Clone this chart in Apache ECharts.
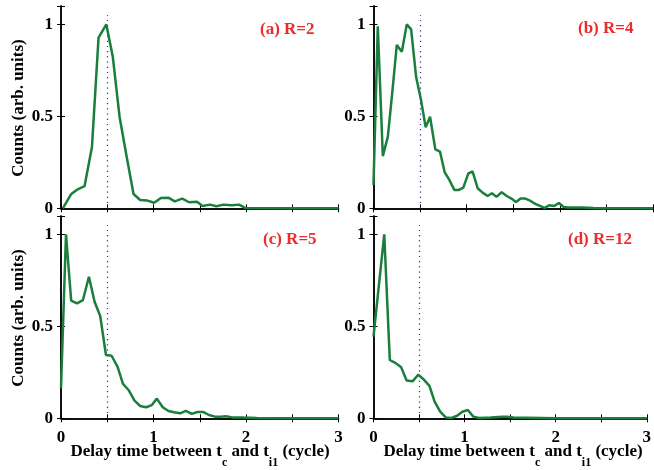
<!DOCTYPE html>
<html><head><meta charset="utf-8">
<script src="https://cdn.jsdelivr.net/npm/echarts@6/dist/echarts.min.js"></script>
<style>html,body{margin:0;padding:0;background:#fff}#c{width:654px;height:470px}</style>
</head><body><div id="c"></div>
<script>
// Panel (a) R=2
const xA = [0.02,0.108,0.18,0.255,0.335,0.406,0.49,0.56,0.633,0.71,0.784,0.856,0.928,1.007,1.08,1.16,1.23,1.31,1.385,1.47,1.53,1.61,1.68,1.755,1.845,1.925,1.99,2.5,3.0];
const yA = [0,0.076,0.103,0.121,0.335,0.928,1.0,0.824,0.498,0.28,0.078,0.045,0.043,0.03,0.056,0.058,0.038,0.053,0.033,0.036,0.013,0.02,0.011,0.02,0.016,0.02,0.002,0,0];
// Panel (b) R=4
const xB = [0,0.046,0.1,0.154,0.204,0.25,0.304,0.357,0.404,0.457,0.51,0.56,0.607,0.664,0.714,0.764,0.814,0.868,0.918,0.964,1.018,1.064,1.118,1.171,1.225,1.271,1.32,1.375,1.43,1.48,1.53,1.58,1.63,1.686,1.736,1.786,1.836,1.886,1.94,1.99,2.04,2.09,2.14,2.25,2.36,2.5,3.0];
const yB = [0.127,0.99,0.284,0.39,0.643,0.888,0.851,1.0,0.973,0.716,0.589,0.44,0.498,0.32,0.308,0.196,0.154,0.1,0.1,0.112,0.19,0.2,0.109,0.085,0.067,0.082,0.062,0.087,0.067,0.053,0.034,0.053,0.053,0.04,0.024,0.013,0.002,0.016,0.013,0.029,0.007,0.005,0.005,0.004,0.002,0,0];
// Panel (c) R=5
const xC = [0,0.054,0.11,0.173,0.237,0.302,0.363,0.424,0.486,0.547,0.612,0.67,0.73,0.795,0.856,0.92,0.982,1.036,1.1,1.162,1.223,1.288,1.35,1.414,1.475,1.54,1.6,1.665,1.727,1.784,1.852,1.917,1.978,2.115,2.5,3.0];
const yC = [0.163,1.0,0.64,0.625,0.643,0.77,0.634,0.556,0.344,0.34,0.28,0.187,0.154,0.096,0.067,0.06,0.072,0.107,0.06,0.04,0.033,0.027,0.04,0.024,0.034,0.034,0.018,0.009,0.009,0.011,0.005,0.005,0.004,0.002,0,0];
// Panel (d) R=12
const xD = [0,0.118,0.179,0.243,0.304,0.364,0.429,0.49,0.55,0.614,0.671,0.732,0.793,0.857,0.918,0.975,1.036,1.096,1.16,1.286,1.41,1.464,1.536,2.0,2.5,3.0];
const yD = [0.444,1.0,0.317,0.3,0.277,0.205,0.201,0.237,0.212,0.176,0.091,0.036,0.005,0.002,0.014,0.036,0.045,0.009,0.002,0.005,0.009,0.009,0.004,0,0,0];

const panelLabels = ['(a) R=2','(b) R=4','(c) R=5','(d) R=12'];
const xTickValues = [0,1,2,3];
const yTickValues = [0,0.5,1];
const xTitle = 'Delay time between t{s|c} and t{s|i1} (cycle)';
const yTitle = 'Counts (arb. units)';
const markerX = 0.5;

const panelX = [xA,xB,xC,xD];
const panelY = [yA,yB,yC,yD];

const grids = [
  {left:61, top:6, width:277.5, height:202.3},
  {left:373.5, top:6, width:279.5, height:202.3},
  {left:61, top:216, width:277.5, height:202.3},
  {left:373.5, top:216, width:279.5, height:202.3}
];
const labelPos = [[260,30],[578,29],[263,240],[568,240]];

const FONT = '"Liberation Serif","Times New Roman",serif';
const axisLine = {show:true, lineStyle:{color:'#000', width:1.5}};
const axisTick = {show:true, inside:true, length:4, lineStyle:{color:'#000', width:1}};

const xAxes = [], yAxes = [], series = [], graphics = [];
for (let i = 0; i < 4; i++) {
  const bottomRow = i >= 2;
  xAxes.push({type:'value', gridIndex:i, position:'bottom', min:0, max:3, interval:0.5,
    axisLine, axisTick, splitLine:{show:false},
    axisLabel:{show:bottomRow, margin:11, color:'#000', fontFamily:FONT, fontWeight:'bold', fontSize:17,
      formatter: v => xTickValues.includes(v) ? String(v) : ''}});
  xAxes.push({type:'value', gridIndex:i, position:'top', min:0, max:3, interval:0.5,
    axisLine, axisTick, splitLine:{show:false}, axisLabel:{show:false}});
  yAxes.push({type:'value', gridIndex:i, position:'left', min:0, max:1.1, interval:0.5,
    axisLine, axisTick, splitLine:{show:false},
    axisLabel:{show:true, margin:8, color:'#000', fontFamily:FONT, fontWeight:'bold', fontSize:17,
      formatter: v => yTickValues.includes(v) ? String(v) : ''}});
  yAxes.push({type:'value', gridIndex:i, position:'right', min:0, max:1.1, interval:0.5,
    axisLine, axisTick, splitLine:{show:false}, axisLabel:{show:false}});
  series.push({type:'line', xAxisIndex:2*i, yAxisIndex:2*i, showSymbol:false, symbol:'none',
    clip:false, z:5, animation:false,
    lineStyle:{color:'#1a7f3c', width:2.5}, itemStyle:{color:'#1a7f3c'},
    data: panelX[i].map((x,k)=>[x, panelY[i][k]]),
    markLine:{silent:true, symbol:['none','none'], animation:false, label:{show:false},
      lineStyle:{type:[1.2,4], color:'#2a2f80', width:1.2},
      data:[[{coord:[markerX,0]},{coord:[markerX,1.05]}]]}});
  graphics.push({type:'text', x:labelPos[i][0], y:labelPos[i][1],
    style:{text:panelLabels[i], fill:'#ee2b2b', font:'bold 17px ' + FONT, textAlign:'left', textVerticalAlign:'middle', align:'left', verticalAlign:'middle'}});
}
// y titles
[108, 318].forEach(cy => graphics.push({type:'text', x:19, y:cy, rotation:Math.PI/2,
  style:{text:yTitle, fill:'#000', font:'bold 17px ' + FONT, textAlign:'center', textVerticalAlign:'middle', align:'center', verticalAlign:'middle'}}));
// x titles
[200, 513].forEach(cx => graphics.push({type:'text', x:cx, y:452,
  style:{text:xTitle, fill:'#000', font:'bold 17px ' + FONT, textAlign:'center', textVerticalAlign:'middle', align:'center', verticalAlign:'middle',
    rich:{s:{fontFamily:FONT, fontWeight:'bold', fontSize:12, fill:'#000', color:'#000', padding:[22,0,0,0]}}}}));

const chart = echarts.init(document.getElementById('c'), null, {renderer:'canvas'});
chart.setOption({
  backgroundColor:'#fff',
  animation:false,
  grid: grids.map(g => Object.assign({show:false, containLabel:false}, g)),
  xAxis: xAxes, yAxis: yAxes, series, graphic: graphics
});
</script></body></html>
